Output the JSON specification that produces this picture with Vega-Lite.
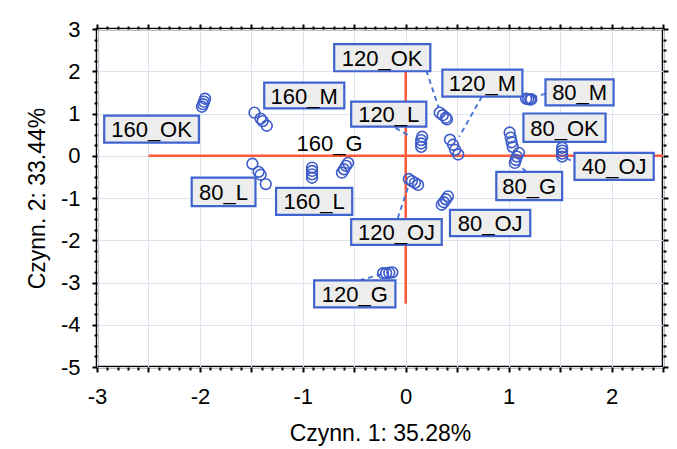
{
  "$schema": "https://vega.github.io/schema/vega-lite/v6.json",
  "width": 566,
  "height": 338,
  "autosize": {"type": "none"},
  "padding": {"left": 97, "top": 29, "right": 14, "bottom": 82},
  "background": "white",
  "config": {
    "font": "Liberation Sans",
    "view": {"stroke": "#000000", "strokeWidth": 2.5},
    "axis": {
      "domain": false,
      "labelFont": "Liberation Sans",
      "labelFontSize": 22,
      "labelColor": "#000000",
      "titleFont": "Liberation Sans",
      "titleFontSize": 23,
      "titleFontWeight": "normal",
      "titleColor": "#000000",
      "tickColor": "#000000",
      "tickWidth": 2,
      "gridColor": "#dce4f0",
      "gridWidth": 1
    }
  },
  "datasets": {
    "cross": [
      {"x": -2.5, "x2": 2.5, "y": 0, "y2": 0},
      {"x": 0, "x2": 0, "y": 2.5, "y2": -3.5}
    ],
    "leaders": [
      {"label": "120_OK", "x": 0.2, "y": 2.02, "x2": 0.32, "y2": 1.14},
      {"label": "120_M", "x": 0.74, "y": 1.4, "x2": 0.52, "y2": 0.45},
      {"label": "80_M", "x": 1.36, "y": 1.47, "x2": 1.24, "y2": 1.38},
      {"label": "120_L", "x": -0.1, "y": 0.66, "x2": 0.05, "y2": 0.45},
      {"label": "80_G", "x": 1.17, "y": -0.38, "x2": 1.1, "y2": -0.22},
      {"label": "40_OJ", "x": 1.56, "y": -0.06, "x2": 1.64, "y2": -0.15},
      {"label": "120_OJ", "x": 0.02, "y": -0.76, "x2": -0.08, "y2": -1.5},
      {"label": "120_G", "x": -0.45, "y": -2.95, "x2": -0.23, "y2": -2.8}
    ],
    "points": [
      {"group": "160_OK", "x": -1.95, "y": 1.35}, {"group": "160_OK", "x": -1.96, "y": 1.28}, {"group": "160_OK", "x": -1.97, "y": 1.22}, {"group": "160_OK", "x": -1.98, "y": 1.16},
      {"group": "160_M", "x": -1.47, "y": 1.02}, {"group": "160_M", "x": -1.41, "y": 0.88}, {"group": "160_M", "x": -1.39, "y": 0.82}, {"group": "160_M", "x": -1.35, "y": 0.71},
      {"group": "80_L", "x": -1.49, "y": -0.19}, {"group": "80_L", "x": -1.43, "y": -0.38}, {"group": "80_L", "x": -1.41, "y": -0.45}, {"group": "80_L", "x": -1.36, "y": -0.67},
      {"group": "160_L", "x": -0.91, "y": -0.28}, {"group": "160_L", "x": -0.91, "y": -0.36}, {"group": "160_L", "x": -0.91, "y": -0.44}, {"group": "160_L", "x": -0.91, "y": -0.52},
      {"group": "160_G", "x": -0.56, "y": -0.17}, {"group": "160_G", "x": -0.58, "y": -0.24}, {"group": "160_G", "x": -0.6, "y": -0.32}, {"group": "160_G", "x": -0.62, "y": -0.4},
      {"group": "120_L", "x": 0.16, "y": 0.45}, {"group": "120_L", "x": 0.15, "y": 0.37}, {"group": "120_L", "x": 0.15, "y": 0.29}, {"group": "120_L", "x": 0.15, "y": 0.21},
      {"group": "120_OK", "x": 0.33, "y": 1.02}, {"group": "120_OK", "x": 0.36, "y": 0.96}, {"group": "120_OK", "x": 0.39, "y": 0.9}, {"group": "120_OK", "x": 0.4, "y": 0.86},
      {"group": "120_M", "x": 0.43, "y": 0.38}, {"group": "120_M", "x": 0.46, "y": 0.26}, {"group": "120_M", "x": 0.48, "y": 0.14}, {"group": "120_M", "x": 0.51, "y": 0.03},
      {"group": "80_M", "x": 1.17, "y": 1.35}, {"group": "80_M", "x": 1.19, "y": 1.34}, {"group": "80_M", "x": 1.21, "y": 1.33}, {"group": "80_M", "x": 1.22, "y": 1.34},
      {"group": "80_OK", "x": 1.01, "y": 0.55}, {"group": "80_OK", "x": 1.02, "y": 0.43}, {"group": "80_OK", "x": 1.03, "y": 0.32}, {"group": "80_OK", "x": 1.04, "y": 0.21},
      {"group": "80_G", "x": 1.1, "y": 0.07}, {"group": "80_G", "x": 1.08, "y": -0.02}, {"group": "80_G", "x": 1.07, "y": -0.1}, {"group": "80_G", "x": 1.06, "y": -0.17},
      {"group": "40_OJ", "x": 1.52, "y": 0.19}, {"group": "40_OJ", "x": 1.52, "y": 0.12}, {"group": "40_OJ", "x": 1.52, "y": 0.05}, {"group": "40_OJ", "x": 1.52, "y": -0.02},
      {"group": "120_OJ", "x": 0.03, "y": -0.55}, {"group": "120_OJ", "x": 0.06, "y": -0.6}, {"group": "120_OJ", "x": 0.09, "y": -0.64}, {"group": "120_OJ", "x": 0.12, "y": -0.69},
      {"group": "80_OJ", "x": 0.41, "y": -0.96}, {"group": "80_OJ", "x": 0.39, "y": -1.03}, {"group": "80_OJ", "x": 0.37, "y": -1.1}, {"group": "80_OJ", "x": 0.35, "y": -1.16},
      {"group": "120_G", "x": -0.22, "y": -2.78}, {"group": "120_G", "x": -0.19, "y": -2.78}, {"group": "120_G", "x": -0.16, "y": -2.77}, {"group": "120_G", "x": -0.13, "y": -2.76}
    ],
    "labels": [
      {"label": "120_OK", "boxed": true, "tx": -0.23, "ty": 2.32, "bx": -0.695, "bx2": 0.239, "by": 2.0, "by2": 2.64},
      {"label": "160_M", "boxed": true, "tx": -0.986, "ty": 1.425, "bx": -1.375, "bx2": -0.597, "by": 1.12, "by2": 1.73},
      {"label": "160_OK", "boxed": true, "tx": -2.47, "ty": 0.63, "bx": -2.93, "bx2": -2.01, "by": 0.31, "by2": 0.95},
      {"label": "120_L", "boxed": true, "tx": -0.165, "ty": 0.985, "bx": -0.53, "bx2": 0.2, "by": 0.69, "by2": 1.28},
      {"label": "120_M", "boxed": true, "tx": 0.745, "ty": 1.72, "bx": 0.356, "bx2": 1.134, "by": 1.4, "by2": 2.04},
      {"label": "80_M", "boxed": true, "tx": 1.69, "ty": 1.5, "bx": 1.358, "bx2": 2.02, "by": 1.19, "by2": 1.81},
      {"label": "80_OK", "boxed": true, "tx": 1.543, "ty": 0.665, "bx": 1.144, "bx2": 1.942, "by": 0.33, "by2": 1.0},
      {"label": "40_OJ", "boxed": true, "tx": 2.025, "ty": -0.25, "bx": 1.64, "bx2": 2.41, "by": -0.57, "by2": 0.07},
      {"label": "80_G", "boxed": true, "tx": 1.2, "ty": -0.715, "bx": 0.88, "bx2": 1.52, "by": -1.05, "by2": -0.38},
      {"label": "80_L", "boxed": true, "tx": -1.77, "ty": -0.855, "bx": -2.08, "bx2": -1.46, "by": -1.19, "by2": -0.52},
      {"label": "160_L", "boxed": true, "tx": -0.89, "ty": -1.08, "bx": -1.26, "bx2": -0.52, "by": -1.4, "by2": -0.76},
      {"label": "120_OJ", "boxed": true, "tx": -0.09, "ty": -1.805, "bx": -0.53, "bx2": 0.35, "by": -2.11, "by2": -1.5},
      {"label": "80_OJ", "boxed": true, "tx": 0.82, "ty": -1.59, "bx": 0.43, "bx2": 1.21, "by": -1.9, "by2": -1.28},
      {"label": "120_G", "boxed": true, "tx": -0.495, "ty": -3.27, "bx": -0.89, "bx2": -0.1, "by": -3.59, "by2": -2.95},
      {"label": "160_G", "boxed": false, "tx": -0.74, "ty": 0.31}
    ]
  },
  "resolve": {"axis": {"x": "independent", "y": "independent"}},
  "layer": [
    {
      "data": {"name": "cross"},
      "mark": {"type": "rule", "color": "#ff5a3a", "strokeWidth": 2.5},
      "encoding": {
        "x": {
          "field": "x", "type": "quantitative",
          "scale": {"domain": [-3, 2.5], "nice": false, "zero": false},
          "axis": {
            "orient": "bottom",
            "title": "Czynn. 1: 35.28%",
            "titlePadding": 15,
            "values": [-3,-2.9,-2.8,-2.7,-2.6,-2.5,-2.4,-2.3,-2.2,-2.1,-2,-1.9,-1.8,-1.7,-1.6,-1.5,-1.4,-1.3,-1.2,-1.1,-1,-0.9,-0.8,-0.7,-0.6,-0.5,-0.4,-0.3,-0.2,-0.1,0,0.1,0.2,0.3,0.4,0.5,0.6,0.7,0.8,0.9,1,1.1,1.2,1.3,1.4,1.5,1.6,1.7,1.8,1.9,2,2.1,2.2,2.3,2.4,2.5],
            "labelExpr": "abs(datum.value - round(datum.value)) < 0.001 ? '' + round(datum.value) : ''",
            "labelPadding": 14,
            "labelOverlap": false,
            "labelFlush": false,
            "grid": true,
            "gridOpacity": {"condition": {"test": "abs(datum.value*2 - round(datum.value*2)) < 0.001", "value": 1}, "value": 0},
            "tickSize": {"condition": {"test": "abs(datum.value*2 - round(datum.value*2)) < 0.001", "value": 5}, "value": 3}
          }
        },
        "x2": {"field": "x2"},
        "y": {
          "field": "y", "type": "quantitative",
          "scale": {"domain": [-5, 3], "nice": false, "zero": false},
          "axis": {
            "orient": "left",
            "title": "Czynn. 2: 33.44%",
            "titlePadding": 11,
            "values": [-5,-4.75,-4.5,-4.25,-4,-3.75,-3.5,-3.25,-3,-2.75,-2.5,-2.25,-2,-1.75,-1.5,-1.25,-1,-0.75,-0.5,-0.25,0,0.25,0.5,0.75,1,1.25,1.5,1.75,2,2.25,2.5,2.75,3],
            "labelExpr": "abs(datum.value - round(datum.value)) < 0.001 ? '' + round(datum.value) : ''",
            "labelPadding": 12,
            "labelOverlap": false,
            "labelFlush": false,
            "grid": true,
            "gridOpacity": {"condition": {"test": "abs(datum.value - round(datum.value)) < 0.001", "value": 1}, "value": 0},
            "tickSize": {"condition": {"test": "abs(datum.value - round(datum.value)) < 0.001", "value": 5}, "value": 3}
          }
        },
        "y2": {"field": "y2"}
      }
    },
    {
      "data": {"name": "leaders"},
      "mark": {"type": "rule", "color": "#4a78d8", "strokeWidth": 2, "strokeDash": [5, 4]},
      "encoding": {
        "x": {
          "field": "x", "type": "quantitative",
          "axis": {
            "orient": "top", "title": null, "labels": false, "grid": false,
            "values": [-3,-2.9,-2.8,-2.7,-2.6,-2.5,-2.4,-2.3,-2.2,-2.1,-2,-1.9,-1.8,-1.7,-1.6,-1.5,-1.4,-1.3,-1.2,-1.1,-1,-0.9,-0.8,-0.7,-0.6,-0.5,-0.4,-0.3,-0.2,-0.1,0,0.1,0.2,0.3,0.4,0.5,0.6,0.7,0.8,0.9,1,1.1,1.2,1.3,1.4,1.5,1.6,1.7,1.8,1.9,2,2.1,2.2,2.3,2.4,2.5],
            "tickSize": {"condition": {"test": "abs(datum.value*2 - round(datum.value*2)) < 0.001", "value": 5}, "value": 3}
          }
        },
        "x2": {"field": "x2"},
        "y": {
          "field": "y", "type": "quantitative",
          "axis": {
            "orient": "right", "title": null, "labels": false, "grid": false,
            "values": [-5,-4.75,-4.5,-4.25,-4,-3.75,-3.5,-3.25,-3,-2.75,-2.5,-2.25,-2,-1.75,-1.5,-1.25,-1,-0.75,-0.5,-0.25,0,0.25,0.5,0.75,1,1.25,1.5,1.75,2,2.25,2.5,2.75,3],
            "tickSize": {"condition": {"test": "abs(datum.value - round(datum.value)) < 0.001", "value": 5}, "value": 3}
          }
        },
        "y2": {"field": "y2"}
      }
    },
    {
      "data": {"name": "points"},
      "mark": {"type": "point", "shape": "circle", "filled": false, "stroke": "#3d5cc9", "strokeWidth": 1.6, "size": 115, "opacity": 1},
      "encoding": {
        "x": {"field": "x", "type": "quantitative", "axis": null},
        "y": {"field": "y", "type": "quantitative", "axis": null}
      }
    },
    {
      "data": {"name": "labels"},
      "transform": [{"filter": "datum.boxed"}],
      "mark": {"type": "rect", "fill": "#ededed", "stroke": "#3f63cf", "strokeWidth": 2.2},
      "encoding": {
        "x": {"field": "bx", "type": "quantitative", "axis": null},
        "x2": {"field": "bx2"},
        "y": {"field": "by", "type": "quantitative", "axis": null},
        "y2": {"field": "by2"}
      }
    },
    {
      "data": {"name": "labels"},
      "mark": {"type": "text", "font": "Liberation Sans", "fontSize": 22, "color": "#000000", "align": "center", "baseline": "middle", "dy": 1},
      "encoding": {
        "x": {"field": "tx", "type": "quantitative", "axis": null},
        "y": {"field": "ty", "type": "quantitative", "axis": null},
        "text": {"field": "label"}
      }
    }
  ]
}
